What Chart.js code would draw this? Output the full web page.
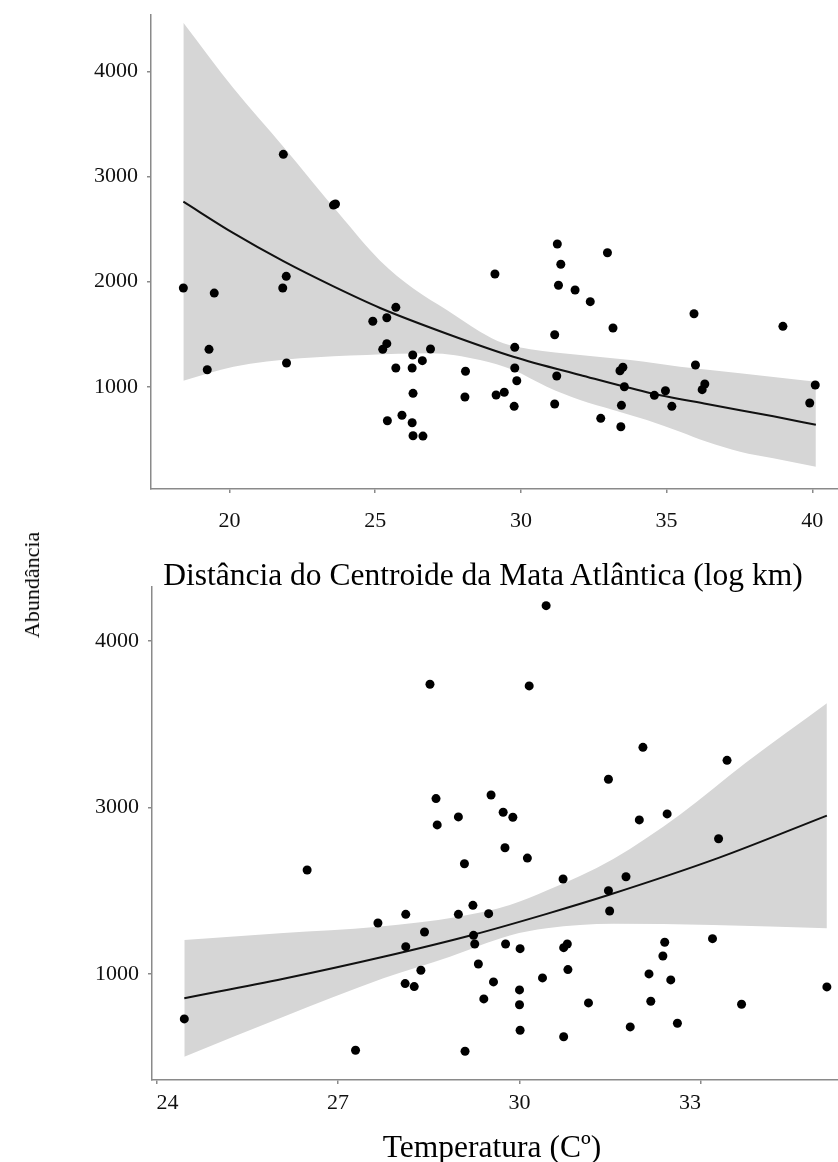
<!DOCTYPE html>
<html>
<head>
<meta charset="utf-8">
<script src="https://cdn.jsdelivr.net/npm/chart.js@4.4.1/dist/chart.umd.min.js"></script>
<style>
  html, body { margin: 0; padding: 0; background: #fff; width: 838px; height: 1162px; overflow: hidden; }
  canvas { position: absolute; left: 0; }
  #c1 { top: 0; }
  #c2 { top: 570px; }
  .title {
    position: absolute; transform: translate(-50%, -50%);
    font-family: 'Liberation Serif', 'Times New Roman', serif;
    font-size: 31.5px; line-height: 1; color: #000; white-space: nowrap;
  }
  #xtitle1 { left: 483px; top: 575px; }
  #xtitle2 { left: 492px; top: 1147px; }
  #ytitle {
    position: absolute; left: 32px; top: 585px;
    transform: translate(-50%, -50%) rotate(-90deg);
    font-family: 'Liberation Serif', 'Times New Roman', serif;
    font-size: 22px; line-height: 1; color: #000; white-space: nowrap;
  }
</style>
</head>
<body>
<canvas id="c1" width="838" height="600"></canvas>
<canvas id="c2" width="838" height="600"></canvas>
<div class="title" id="xtitle1">Distância do Centroide da Mata Atlântica (log km)</div>
<div class="title" id="xtitle2">Temperatura (Cº)</div>
<div id="ytitle">Abundância</div>
<script>
// ---- Abundância vs distância do centroide (log km) ----
const distX = [18.42,19.24,19.30,19.48,21.83,21.85,21.95,21.96,23.57,23.64,24.92,25.26,25.40,25.40,25.42,25.71,25.71,25.92,26.27,26.27,26.29,26.30,26.30,26.62,26.64,26.90,28.08,28.10,29.11,29.15,29.43,29.77,29.79,29.79,29.86,31.16,31.16,31.23,31.25,31.29,31.37,31.86,32.38,32.74,32.97,33.16,33.40,33.43,33.45,33.50,33.55,34.58,34.96,35.18,35.94,35.99,36.22,36.31,38.99,39.91,40.10];
const distY = [1940,1162,1356,1892,1940,3213,2051,1226,2730,2740,1623,1356,1657,1410,676,1756,1178,728,1178,657,1302,937,533,1248,530,1359,902,1147,2073,921,947,813,1375,1178,1057,1495,835,1102,2359,1966,2166,1921,1810,699,2276,1559,1152,619,823,1185,1000,918,962,813,1695,1207,972,1026,1575,845,1016];

const distFitX = [18.42,20.14,21.85,23.57,25.17,27.46,29.74,32.03,34.32,36.38,38.66,40.12];
const distFitY = [2762,2462,2195,1955,1750,1505,1286,1112,948,835,718,638];

const distUpperX = [18.42,20.14,21.85,23.75,25.17,26.31,27.46,28.60,29.40,30.32,32.03,33.75,35.46,37.52,40.12];
const distUpperY = [4467,3842,3286,2651,2200,1935,1730,1524,1413,1356,1302,1254,1190,1128,1048];
const distLowerX = [18.42,20.14,22.43,24.71,26.89,28.60,29.74,30.89,32.03,33.17,34.32,35.46,36.38,37.52,38.66,40.12];
const distLowerY = [1057,1190,1270,1302,1318,1254,1159,1000,873,778,683,571,475,381,318,238];

const distXTicks = [20,25,30,35,40];
const distYTicks = [1000,2000,3000,4000];
const distYTickLabels = ['1000','2000','3000','4000'];

// ---- Abundância vs temperatura ----
const tempX = [24.46,26.49,27.29,27.66,28.11,28.12,28.12,28.26,28.37,28.43,28.52,28.62,28.64,28.99,28.99,29.09,29.10,29.23,29.24,29.26,29.32,29.41,29.49,29.53,29.57,29.73,29.76,29.77,29.89,30.00,30.00,30.01,30.01,30.13,30.16,30.38,30.44,30.72,30.73,30.73,30.79,30.80,31.14,31.47,31.47,31.49,31.76,31.83,31.98,32.04,32.14,32.17,32.37,32.40,32.44,32.50,32.61,33.19,33.29,33.43,33.67,35.08];
const tempY = [729,1623,541,1305,941,1357,1163,923,1021,1251,2739,2052,1894,1942,1357,1661,535,1411,1231,1179,1059,849,1361,2074,951,1970,1757,1179,1940,903,814,1151,661,1695,2729,975,3211,1569,1157,622,1179,1025,825,2168,1499,1377,1583,681,1924,2360,999,835,1107,1189,1960,963,703,1211,1811,2282,817,921];

const tempFitX = [24.46,26.10,27.75,29.25,30.45,31.47,33.29,35.08];
const tempFitY = [853,970,1102,1236,1360,1473,1696,1950];

const tempUpperX = [24.46,26.10,27.66,28.99,29.84,30.45,31.55,32.65,33.75,35.08];
const tempUpperY = [1203,1245,1283,1343,1413,1500,1690,1955,2270,2625];
const tempLowerX = [24.46,26.10,27.75,28.85,29.84,30.45,31.55,33.20,35.08];
const tempLowerY = [502,742,973,1103,1230,1273,1300,1293,1273];

const tempXTicks = [24,27,30,33];
const tempYTicks = [1000,2000,3000];
const tempYTickLabels = ['1000','3000','4000'];

const SERIF = "'Liberation Serif', 'Times New Roman', serif";
const AXIS = '#8a8a8a';
const BAND = 'rgb(214,214,214)';

function pts(xs, ys) { return xs.map((x, i) => ({ x: x, y: ys[i] })); }

// keep the plot area exactly where the layout options put it
function noPad(s) { s.paddingTop = 0; s.paddingBottom = 0; s.paddingLeft = 0; s.paddingRight = 0; }

function build(id, o) {
  return new Chart(document.getElementById(id), {
    type: 'scatter',
    data: {
      datasets: [
        { data: pts(o.px, o.py), pointRadius: 4.5, pointHoverRadius: 4.5,
          pointBackgroundColor: '#000', pointBorderWidth: 0, order: 0 },
        { type: 'line', data: pts(o.fx, o.fy), borderColor: '#111', borderWidth: 2,
          pointRadius: 0, cubicInterpolationMode: 'monotone', fill: false, order: 1 },
        { type: 'line', data: pts(o.lx, o.ly), borderColor: 'rgba(0,0,0,0)', borderWidth: 0,
          pointRadius: 0, cubicInterpolationMode: 'monotone', fill: false, order: 2 },
        { type: 'line', data: pts(o.ux, o.uy), borderColor: 'rgba(0,0,0,0)', borderWidth: 0,
          pointRadius: 0, cubicInterpolationMode: 'monotone', fill: { target: 2 },
          backgroundColor: BAND, order: 3 }
      ]
    },
    options: {
      responsive: false, animation: false, devicePixelRatio: 1, events: [],
      layout: { autoPadding: false, padding: { top: o.padTop, right: 0, bottom: 0, left: 0 } },
      plugins: { legend: { display: false }, tooltip: { enabled: false } },
      scales: {
        x: {
          type: 'linear', min: o.xmin, max: o.xmax,
          afterFit: s => { s.height = o.xh; noPad(s); },
          afterBuildTicks: s => { s.ticks = o.xt.map(v => ({ value: v })); },
          grid: { drawOnChartArea: false, drawTicks: true, tickLength: 4, color: AXIS, lineWidth: 1.5 },
          border: { display: true, color: AXIS, width: 1.5 },
          ticks: { font: { family: SERIF, size: 22 }, color: '#111', padding: o.xtp, align: o.xalign,
                   maxRotation: 0, autoSkip: false, callback: v => String(v) },
          title: { display: false }
        },
        y: {
          type: 'linear', min: o.ymin, max: o.ymax,
          afterFit: s => { s.width = o.yw; noPad(s); },
          afterBuildTicks: s => { s.ticks = o.yt.map(v => ({ value: v })); },
          grid: { drawOnChartArea: false, drawTicks: true, tickLength: 4, color: AXIS, lineWidth: 1.5 },
          border: { display: true, color: AXIS, width: 1.5 },
          ticks: { font: { family: SERIF, size: 22 }, color: '#111', padding: 9,
                   callback: v => o.ytl[o.yt.indexOf(v)] }
        }
      }
    }
  });
}

build('c1', {
  px: distX, py: distY, fx: distFitX, fy: distFitY,
  ux: distUpperX, uy: distUpperY, lx: distLowerX, ly: distLowerY,
  xmin: 17.31, xmax: 40.88, ymin: 26, ymax: 4540,
  xt: distXTicks, yt: distYTicks, ytl: distYTickLabels,
  padTop: 15, xh: 111, yw: 151, xtp: 15, xalign: 'center'
});

build('c2', {
  px: tempX, py: tempY, fx: tempFitX, fy: tempFitY,
  ux: tempUpperX, uy: tempUpperY, lx: tempLowerX, ly: tempLowerY,
  xmin: 23.926, xmax: 35.264, ymin: 362, ymax: 3323,
  xt: tempXTicks, yt: tempYTicks, ytl: tempYTickLabels,
  padTop: 17, xh: 90, yw: 152, xtp: 6, xalign: 'inner'
});
</script>
</body>
</html>
